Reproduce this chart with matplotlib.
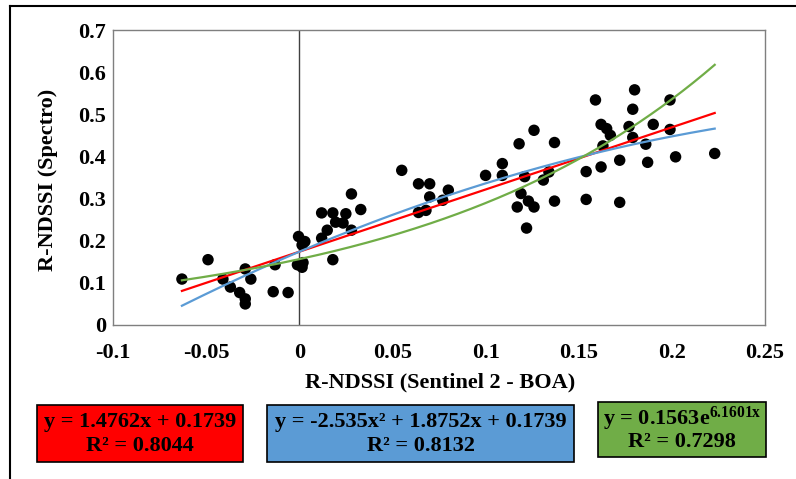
import numpy as np
import matplotlib
matplotlib.use('Agg')
import matplotlib.pyplot as plt
from matplotlib.patches import Rectangle
from matplotlib.lines import Line2D

plt.rcParams['font.family'] = ['Liberation Serif', 'DejaVu Serif']
plt.rcParams['font.weight'] = 'bold'
plt.rcParams['mathtext.fontset'] = 'custom'
plt.rcParams['mathtext.rm'] = 'Liberation Serif:bold'
plt.rcParams['mathtext.it'] = 'Liberation Serif:bold'
plt.rcParams['mathtext.bf'] = 'Liberation Serif:bold'

# R-NDSSI, Sentinel 2 (BOA) vs spectroradiometer
sentinel = [-0.063, -0.049, -0.041, -0.037, -0.032, -0.029, -0.029, -0.029, -0.026,
            -0.014, -0.006, -0.013, -0.0004, 0.003, 0.0015, -0.001, 0.0015, 0.002,
            0.012, 0.018, 0.0195, 0.015, 0.012, 0.018, 0.028, 0.033, 0.025, 0.0235,
            0.028, 0.055, 0.064, 0.070, 0.070, 0.080, 0.077, 0.064, 0.068,
            0.100, 0.109, 0.109, 0.118, 0.126, 0.137, 0.121, 0.119, 0.123, 0.117,
            0.126, 0.122, 0.131, 0.134, 0.137,
            0.159, 0.180, 0.179, 0.199, 0.162, 0.165, 0.167, 0.177, 0.190, 0.179,
            0.199, 0.186, 0.163, 0.172, 0.187, 0.202, 0.154, 0.162, 0.154, 0.172,
            0.223]
spectro = [0.109, 0.155, 0.109, 0.090, 0.077, 0.062, 0.050, 0.133, 0.109,
           0.079, 0.077, 0.143, 0.210, 0.198, 0.190, 0.143, 0.137, 0.148,
           0.266, 0.266, 0.244, 0.225, 0.206, 0.155, 0.311, 0.274, 0.264, 0.242,
           0.225, 0.367, 0.335, 0.335, 0.304, 0.320, 0.296, 0.267, 0.272,
           0.355, 0.383, 0.355, 0.430, 0.462, 0.433, 0.352, 0.312, 0.294, 0.280,
           0.280, 0.230, 0.344, 0.363, 0.294,
           0.534, 0.558, 0.512, 0.534, 0.476, 0.466, 0.450, 0.471, 0.476, 0.445,
           0.464, 0.429, 0.425, 0.391, 0.386, 0.399, 0.364, 0.375, 0.298, 0.291,
           0.407]

# trendline coefficients as printed on the chart
lin_a, lin_b = 1.4762, 0.1739
poly_a, poly_b, poly_c = -2.535, 1.8752, 0.1739
exp_a, exp_b = 0.1563, 6.1601

x_ticks = [-0.1, -0.05, 0, 0.05, 0.1, 0.15, 0.2, 0.25]
x_labels = ['-0.1', '-0.05', '0', '0.05', '0.1', '0.15', '0.2', '0.25']
y_ticks = [0, 0.1, 0.2, 0.3, 0.4, 0.5, 0.6, 0.7]
y_labels = ['0', '0.1', '0.2', '0.3', '0.4', '0.5', '0.6', '0.7']

W, H = 796, 479
fig = plt.figure(figsize=(W / 100, H / 100), dpi=100)
ax = fig.add_axes([113 / W, 1 - 325 / H, (765 - 113) / W, (325 - 30) / H])

x = np.array(sentinel)
y = np.array(spectro)
xs = np.linspace(x.min(), x.max(), 200)

ax.axvline(0, color='#404040', lw=1.0, zorder=1)
ax.scatter(x, y, s=68, color='black', edgecolors='none', zorder=3)
ax.plot(xs, lin_a * xs + lin_b, color='#FF0000', lw=1.6, zorder=4)
ax.plot(xs, poly_a * xs ** 2 + poly_b * xs + poly_c, color='#5B9BD5', lw=1.6, zorder=4)
ax.plot(xs, exp_a * np.exp(exp_b * xs), color='#70AD47', lw=1.6, zorder=4)

ax.set_xlim(-0.1, 0.25)
ax.set_ylim(0, 0.7)
ax.set_xticks(x_ticks)
ax.set_xticklabels(x_labels)
ax.set_yticks(y_ticks)
ax.set_yticklabels(y_labels)
ax.tick_params(length=0, labelsize=16)
ax.tick_params(axis='x', pad=13)
ax.tick_params(axis='y', pad=5)
for sp in ax.spines.values():
    sp.set_color('#7F7F7F')
    sp.set_linewidth(1.0)

ax.set_xlabel('R-NDSSI (Sentinel 2 - BOA)', fontsize=16, fontweight='bold')
ax.xaxis.set_label_coords((440 - 113) / (765 - 113), -(372 - 325) / (325 - 30))
ax.set_ylabel('R-NDSSI (Spectro)', fontsize=16, fontweight='bold')
ax.yaxis.set_label_coords(-(113 - 58) / (765 - 113), (325 - 180) / (325 - 30))

# equation boxes (pixel rectangles: x0, y0 top, x1, y1 bottom)
boxes = [
    ((37, 405, 243, 462), '#FF0000',
     'y = 1.4762x + 0.1739', 'R² = 0.8044'),
    ((267, 405, 574, 462), '#5B9BD5',
     'y = -2.535x² + 1.8752x + 0.1739', 'R² = 0.8132'),
    ((598, 402, 766, 457), '#70AD47',
     r'y = 0.1563e$^{6.1601x}$', 'R² = 0.7298'),
]
for (x0, y0, x1, y1), col, l1, l2 in boxes:
    fig.patches.append(Rectangle((x0 / W, 1 - y1 / H), (x1 - x0) / W, (y1 - y0) / H,
                                 transform=fig.transFigure, facecolor=col,
                                 edgecolor='black', lw=1.2))
    cx = (x0 + x1) / 2 / W
    fig.text(cx, 1 - (y0 + (y1 - y0) * 0.30) / H, l1, ha='center', va='center',
             fontsize=16, fontweight='bold', color='black')
    fig.text(cx, 1 - (y0 + (y1 - y0) * 0.72) / H, l2, ha='center', va='center',
             fontsize=16, fontweight='bold', color='black')

# outer chart frame (cut at right and bottom)
fig.add_artist(Line2D([10 / W, 10 / W], [0, 1 - 6 / H], transform=fig.transFigure,
                      color='black', lw=1.5))
fig.add_artist(Line2D([10 / W, 1], [1 - 6 / H, 1 - 6 / H], transform=fig.transFigure,
                      color='black', lw=1.5))

fig.savefig('out.png', dpi=100)
